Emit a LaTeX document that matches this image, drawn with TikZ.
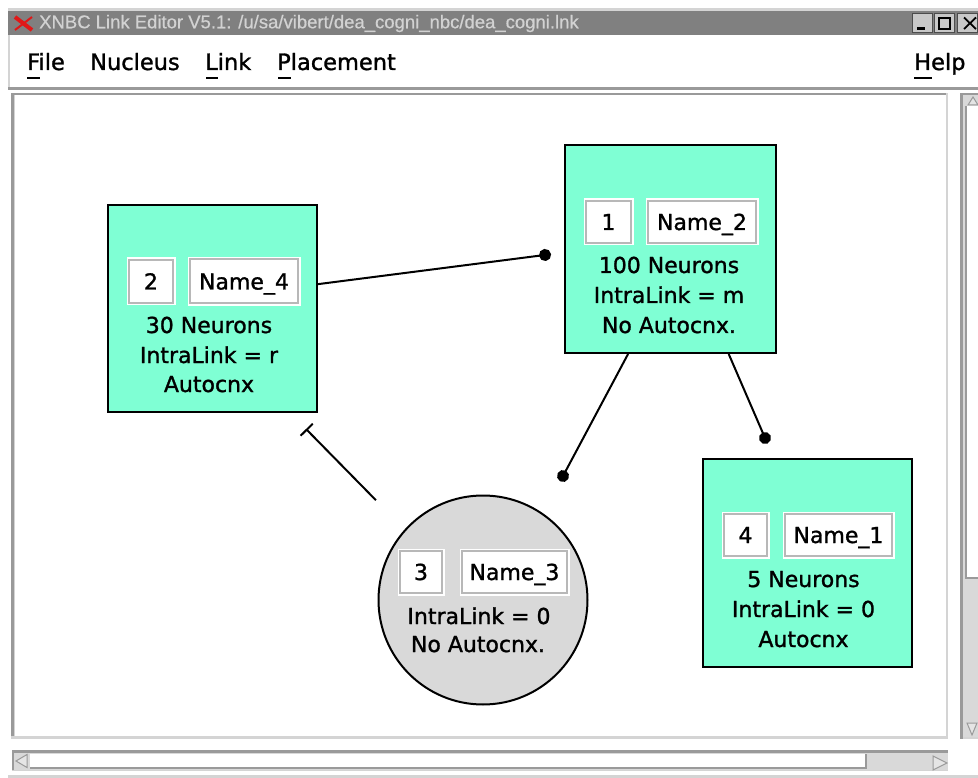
\documentclass[tikz,border=0pt]{standalone}
\usepackage{fontspec}
\usetikzlibrary{arrows.meta}
\newfontfamily\guifont{DejaVu Sans}[FakeBold=1.3]
\newfontfamily\ttlfont{Liberation Sans}[FakeBold=0.6]
\newcommand\nfont{\guifont\fontsize{22}{26}\selectfont}
\newcommand\mfont{\guifont\fontsize{22.5}{26}\selectfont}
\definecolor{aqua}{HTML}{7FFFD4}
\definecolor{cgray}{HTML}{D9D9D9}
\definecolor{titlegray}{HTML}{808080}
\definecolor{titletext}{HTML}{D2D2D2}
\definecolor{bevdark}{HTML}{9A9A9A}
\definecolor{bevlight}{HTML}{D4D4D4}
\definecolor{trough}{HTML}{D9D9D9}
\definecolor{btnface}{HTML}{C8C8C8}
\definecolor{xred}{HTML}{E01818}
\definecolor{boxedge}{HTML}{B8B8B8}
\tikzset{
  nucleus/.style={draw=black, line width=2pt, fill=aqua, inner sep=0pt},
  ncircle/.style={circle, draw=black, line width=2pt, fill=cgray, minimum size=209pt, inner sep=0pt},
  valbox/.style={fill=white, draw=boxedge, line width=2pt, inner sep=0pt, font=\nfont,
    text height=16pt, text depth=0pt,
    preaction={draw=white, line width=5pt}},
  ntext/.style={font=\nfont, anchor=base, inner sep=0pt},
  menuitem/.style={font=\mfont, anchor=base west, inner sep=0pt},
  ul/.style={line width=2pt},
  link/.style={line width=2pt},
  excite/.style={link, -{Circle[length=12pt]}},
  inhibit/.style={link, -{Bar[width=17pt, line width=2pt]}},
  winbtn/.style={fill=btnface, draw=black!70, line width=1pt, inner sep=0pt, minimum width=20pt, minimum height=19pt},
  sarrow/.style={fill=white!90!black, draw=bevdark, line width=1pt},
}
\begin{document}
\begin{tikzpicture}[x=1pt,y=-1pt]
\useasboundingbox (0,0) rectangle (978,778);
\fill[white] (0,0) rectangle (978,778);

% ---------- window title bar ----------
\fill[bevlight] (8,8) rectangle (978,11);
\fill[titlegray] (8,11) rectangle (978,35);
\draw[xred, line width=4pt] (15,17) -- (32,30);
\draw[xred, line width=2pt] (15,30) -- (32,17);
\node[font=\ttlfont\fontsize{18.5}{20}\selectfont, text=titletext, anchor=west, inner sep=0pt] (title) at (39,23.5)
  {XNBC Link Editor V5.1: /u/sa/vibert/dea\_cogni\_nbc/dea\_cogni.lnk};
\node[winbtn] (bmin) at (922.5,23) {};
\node[winbtn] (bmax) at (944.5,23) {};
\node[winbtn] (bclose) at (967,23) {};
\fill[black] (917,27.5) rectangle (925,30.5);
\draw[black, line width=1.5pt] (939,17.5) rectangle (950,29);
\draw[black, line width=2.2pt] (939,18) -- (950,18);
\draw[black, line width=1.8pt] (964,17.5) -- (976,29) (964,29) -- (976,17.5);

% ---------- menu bar ----------
\fill[bevlight] (8,35) rectangle (10,90);
\fill[bevdark] (8,87) rectangle (978,90);
\node[menuitem] (mfile) at (27,70) {File};
\node[menuitem] (mnucleus) at (90,70) {Nucleus};
\node[menuitem] (mlink) at (205,70) {Link};
\node[menuitem] (mplace) at (277,70) {Placement};
\node[menuitem] (mhelp) at (914,70) {Help};
\draw[ul] (27,78) -- (40,78);
\draw[ul] (206,78) -- (218,78);
\draw[ul] (278,78) -- (291,78);
\draw[ul] (914,78) -- (932,78);

% ---------- canvas frame ----------
\fill[bevdark] (11,93) rectangle (948,95.5);
\fill[bevdark] (11,93) rectangle (13.5,738.5);
\fill[bevlight] (13.5,95.5) rectangle (15,736);
\fill[bevlight] (11,735.5) rectangle (948,738.5);
\fill[bevlight] (945.5,93) rectangle (948,738.5);

% ---------- vertical scrollbar ----------
\fill[trough] (960,93) rectangle (978,739);
\fill[bevdark] (960,93) rectangle (963,739);
\fill[bevdark] (960,93) rectangle (978,95);
\fill[bevlight] (963,737) rectangle (978,739);
\fill[white] (965.5,106) rectangle (978,578);
\draw[bevdark, line width=1.5pt] (966,106) -- (966,578) -- (978,578);
\fill[sarrow] (973,97) -- (968,105) -- (978,105) -- cycle;
\fill[sarrow] (967,723) -- (977,723) -- (972,735) -- cycle;

% ---------- horizontal scrollbar ----------
\fill[trough] (12,750) rectangle (948,771);
\fill[bevdark] (12,750) rectangle (948,752.5);
\fill[bevdark] (12,750) rectangle (14,771);
\fill[bevlight] (12,769.5) rectangle (948,771);
\fill[white] (30,754) rectangle (866,768);
\draw[bevdark, line width=1.5pt] (30,768) -- (866,768) -- (866,754);
\fill[sarrow] (16,761) -- (27,754.5) -- (27,767.5) -- cycle;
\fill[sarrow] (933,756) -- (947,763) -- (933,770) -- cycle;
\fill[bevlight] (8,775) rectangle (978,778);

% ---------- nuclei ----------
\node[nucleus, minimum width=209pt, minimum height=207pt] (n2) at (212.5,308.5) {};
\node[nucleus, minimum width=211pt, minimum height=208pt] (n1) at (670.5,249) {};
\node[nucleus, minimum width=209pt, minimum height=208pt] (n4) at (807.5,563) {};
\node[ncircle] (n3) at (483,600) {};

% value boxes
\node[valbox, minimum width=44pt, minimum height=43pt] (n2num) at (151,281.5) {2};
\node[valbox, minimum width=108pt, minimum height=44pt] (n2name) at (244,281.5) {Name\_4};
\node[valbox, minimum width=45pt, minimum height=42pt] (n1num) at (608.5,222) {1};
\node[valbox, minimum width=108pt, minimum height=42pt] (n1name) at (702,222) {Name\_2};
\node[valbox, minimum width=42pt, minimum height=42pt] (n3num) at (421,572) {3};
\node[valbox, minimum width=105pt, minimum height=42pt] (n3name) at (514.5,572) {Name\_3};
\node[valbox, minimum width=43pt, minimum height=42pt] (n4num) at (745.5,535) {4};
\node[valbox, minimum width=107pt, minimum height=42pt] (n4name) at (838.5,535) {Name\_1};

% texts
\node[ntext] (n2t1) at (209,333) {30 Neurons};
\node[ntext] (n2t2) at (209,363) {IntraLink = r};
\node[ntext] (n2t3) at (209,392) {Autocnx};
\node[ntext] (n1t1) at (669,273) {100 Neurons};
\node[ntext] (n1t2) at (669,303) {IntraLink = m};
\node[ntext] (n1t3) at (669,333) {No Autocnx.};
\node[ntext] (n4t1) at (803.5,587) {5 Neurons};
\node[ntext] (n4t2) at (803.5,617) {IntraLink = 0};
\node[ntext] (n4t3) at (803.5,647) {Autocnx};
\node[ntext] (n3t1) at (479,624) {IntraLink = 0};
\node[ntext] (n3t2) at (478,652) {No Autocnx.};

% ---------- links ----------
\coordinate (d1) at (551,254.2);
\coordinate (d3) at (560.2,481.3);
\coordinate (d4) at (767.4,443.5);
\coordinate (bar2) at (306,429);
\draw[excite] (n2.13) -- (d1);
\draw[excite] (n1.248) -- (d3);
\draw[excite] (n1.299) -- (d4);
\draw[inhibit, shorten <=41pt] (n3.138) -- (bar2);
\end{tikzpicture}
\end{document}
